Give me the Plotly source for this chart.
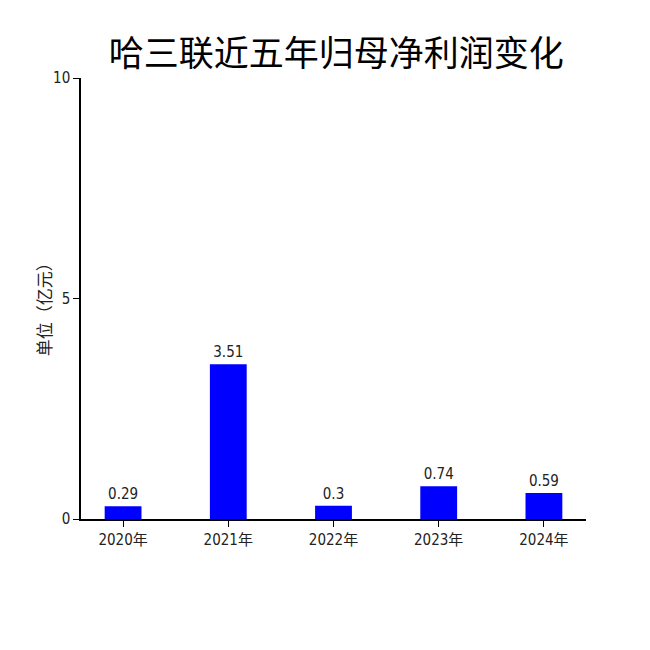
import plotly.graph_objects as go

years = ["2020年", "2021年", "2022年", "2023年", "2024年"]
profits = [0.29, 3.51, 0.3, 0.74, 0.59]
labels = ["0.29", "3.51", "0.3", "0.74", "0.59"]
y_ticks = [0, 5, 10]

font_family = "DejaVu Sans Condensed, Noto Sans CJK SC, sans-serif"

fig = go.Figure(go.Bar(
    x=list(range(len(years))), y=profits,
    marker=dict(color="#0000FF", line=dict(width=0)),
    width=0.35,
    text=labels, textposition="outside", cliponaxis=False,
    textfont=dict(size=15, color="#222"),
))

fig.update_layout(
    width=650, height=650,
    margin=dict(l=73, r=72, t=70, b=139, autoexpand=False),
    plot_bgcolor="white", paper_bgcolor="white",
    font=dict(family=font_family, color="#222", size=15),
    title=dict(text="哈三联近五年归母净利润变化", x=0.505, xanchor="center",
               y=0.93, yanchor="middle",
               font=dict(size=35, color="black", family="Noto Sans CJK SC")),
    showlegend=False,
    annotations=[dict(
        text="单位（亿元）", textangle=-90, xref="paper", yref="paper",
        x=-0.075, y=0.485, xanchor="center", yanchor="middle", showarrow=False,
        font=dict(size=17, family="Noto Sans CJK SC", color="#222"),
    )],
)
fig.update_xaxes(
    tickmode="array", tickvals=list(range(len(years))), ticktext=years,
    range=[-0.4, 4.4], showline=True, linecolor="black", linewidth=1.5,
    ticks="outside", ticklen=6, tickcolor="black", showgrid=False,
    tickfont=dict(size=15), automargin=False,
)
fig.update_yaxes(
    range=[0, 10], tickvals=y_ticks, showline=True, linecolor="black", linewidth=1.5,
    ticks="outside", ticklen=6, tickcolor="black", showgrid=False, zeroline=False,
    tickfont=dict(size=15), automargin=False,
)

fig.write_html("out.html")
